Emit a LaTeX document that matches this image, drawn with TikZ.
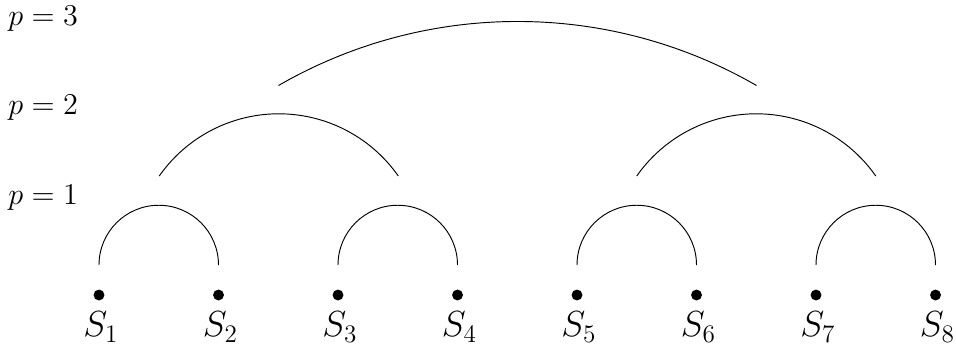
\documentclass[tikz,border=0pt]{standalone}
\usetikzlibrary{calc}
\begin{document}
\begin{tikzpicture}[x=0.016736cm,y=-0.016736cm,
  dotnode/.style={circle,fill=black,inner sep=0pt,minimum size=5.2pt},
  lbl/.style={inner sep=0pt,font=\fontsize{13.5}{16}\selectfont},
  slbl/.style={inner sep=0pt,font=\fontsize{16.5}{19}\selectfont},
  arcline/.style={line width=0.45pt}]
\useasboundingbox (0,0) rectangle (956,350);
% dots and labels
\foreach \i/\x in {1/99,2/218.5,3/338,4/457.5,5/577,6/696.5,7/816,8/935.5}{
  \node[dotnode] (d\i) at (\x,295) {};
  \node[slbl] (s\i) at (\x+2,327) {$S_{\i}$};
}
% level labels
\node[lbl,anchor=west] (p1) at (8,198) {$p=1$};
\node[lbl,anchor=west] (p2) at (8,108) {$p=2$};
\node[lbl,anchor=west] (p3) at (8,19) {$p=3$};
% level 1 arcs (semicircles, radius 59.75)
\foreach \a/\b in {1/2,3/4,5/6,7/8}{
  \coordinate (l1s\a) at ($(d\a)+(0,-30)$);
  \draw[arcline] (l1s\a) arc[start angle=180,end angle=0,radius=59.75*0.016736cm];
}
% level 2 arcs
\coordinate (l2a) at (159.25,176);
\draw[arcline] (l2a) arc[start angle=145,end angle=35,radius=145.9*0.016736cm];
\coordinate (l2b) at (636.75,176);
\draw[arcline] (l2b) arc[start angle=145,end angle=35,radius=145.9*0.016736cm];
% level 3 arc
\coordinate (l3) at (278.5,85.5);
\draw[arcline] (l3) arc[start angle=120,end angle=60,radius=478*0.016736cm];
\end{tikzpicture}
\end{document}
